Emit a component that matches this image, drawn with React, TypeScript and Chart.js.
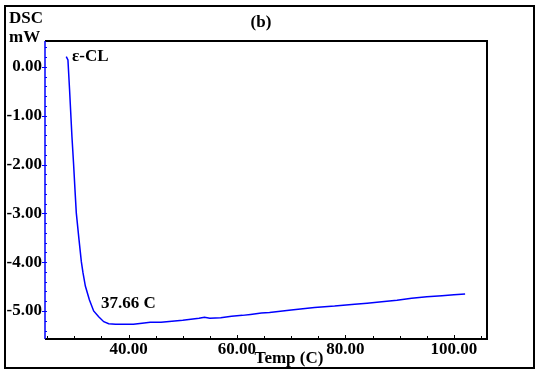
import React, { useEffect, useRef } from "react";
import { Chart, registerables } from "chart.js";

Chart.register(...registerables);

const temps = [28.52, 28.83, 29.13, 29.57, 29.87, 30.13, 30.37, 30.87, 31.3, 31.61, 32.04, 32.78, 33.57, 34.5, 35.43, 36.35, 37.6, 39.5, 40.9, 42.5, 44.0, 46.0, 48.0, 50.0, 51.5, 53.0, 54.0, 55.0, 57.0, 59.0, 61.0, 62.5, 64.5, 66.0, 70.0, 74.3, 78.0, 81.7, 84.0, 86.7, 89.5, 92.2, 95.0, 97.8, 100.0, 102.06];
const dsc = [0.21, 0.14, -0.47, -1.43, -1.99, -2.52, -2.99, -3.54, -3.99, -4.22, -4.49, -4.77, -5.0, -5.12, -5.22, -5.26, -5.27, -5.27, -5.27, -5.25, -5.23, -5.23, -5.21, -5.19, -5.17, -5.15, -5.13, -5.15, -5.14, -5.11, -5.09, -5.07, -5.04, -5.03, -4.98, -4.93, -4.9, -4.86, -4.84, -4.81, -4.78, -4.74, -4.71, -4.69, -4.67, -4.65];

const xMin = 24.6;
const xMax = 106.1;
const yMin = -5.574;
const yMax = 0.53;
const xMajorStep = 20;
const xMinorStep = 5;
const yMajorStep = 1;
const yMinorStep = 0.2;

const titleText = "(b)";
const yTitle1 = "DSC";
const yTitle2 = "mW";
const xTitle = "Temp (C)";
const sampleLabel = "\u03b5-CL";
const peakLabel = "37.66 C";

const FONT = "'Liberation Serif', 'Times New Roman', serif";
const BLUE = "#0000ff";

const decorPlugin = {
  id: "decor",
  afterDraw(chart: any) {
    const ctx = chart.ctx;
    const { left, right, top, bottom } = chart.chartArea;
    const xs = chart.scales.x;
    const ys = chart.scales.y;
    ctx.save();
    // outer frame
    ctx.strokeStyle = "#000";
    ctx.lineWidth = 2;
    ctx.strokeRect(5, 6, 529, 362);
    // inner frame: top, right, bottom black
    ctx.beginPath();
    ctx.moveTo(left, top);
    ctx.lineTo(right, top);
    ctx.lineTo(right, bottom);
    ctx.lineTo(left, bottom);
    ctx.stroke();
    // x ticks (inside, black)
    ctx.lineWidth = 1;
    ctx.strokeStyle = "#000";
    for (let v = Math.ceil(xMin / xMinorStep) * xMinorStep; v <= xMax; v += xMinorStep) {
      const px = Math.round(xs.getPixelForValue(v)) + 0.5;
      const major = Math.abs(v / xMajorStep - Math.round(v / xMajorStep)) < 1e-6;
      ctx.beginPath();
      ctx.moveTo(px, bottom);
      ctx.lineTo(px, bottom - (major ? 4 : 3));
      ctx.stroke();
    }
    // left axis, blue
    ctx.strokeStyle = BLUE;
    ctx.lineWidth = 1.5;
    ctx.beginPath();
    ctx.moveTo(left, top);
    ctx.lineTo(left, bottom);
    ctx.stroke();
    ctx.lineWidth = 1;
    const startY = Math.ceil(yMin / yMinorStep) * yMinorStep;
    for (let i = 0; ; i++) {
      const v = startY + i * yMinorStep;
      if (v > yMax) break;
      const py = Math.round(ys.getPixelForValue(v)) + 0.5;
      const major = Math.abs(v / yMajorStep - Math.round(v / yMajorStep)) < 1e-6;
      ctx.beginPath();
      if (major) {
        ctx.moveTo(left - 3, py);
        ctx.lineTo(left + 2, py);
      } else {
        ctx.moveTo(left, py);
        ctx.lineTo(left + 2, py);
      }
      ctx.stroke();
    }
    // texts
    ctx.fillStyle = "#000";
    ctx.font = `bold 17px ${FONT}`;
    ctx.textBaseline = "middle";
    ctx.textAlign = "left";
    ctx.fillText(yTitle1, 9, 19);
    ctx.fillText(yTitle2, 9, 38);
    ctx.textAlign = "center";
    ctx.fillText(titleText, 261, 23);
    ctx.fillText(xTitle, 289, 359);
    ctx.textAlign = "left";
    ctx.fillText(sampleLabel, 72, 57);
    ctx.fillText(peakLabel, 101, 304);
    ctx.restore();
  },
};

export default function App() {
  const ref = useRef<HTMLCanvasElement>(null);
  useEffect(() => {
    document.body.style.margin = "0";
    const pts = temps.map((t, i) => ({ x: t, y: dsc[i] }));
    const chart = new Chart(ref.current!, {
      type: "line",
      data: {
        datasets: [
          {
            data: pts,
            borderColor: BLUE,
            borderWidth: 1.5,
            pointRadius: 0,
            tension: 0,
            fill: false,
          },
        ],
      },
      options: {
        animation: false,
        responsive: false,
        maintainAspectRatio: false,
        layout: { padding: { left: 0, top: 41, right: 51, bottom: 0 } },
        plugins: { legend: { display: false }, tooltip: { enabled: false } },
        scales: {
          x: {
            type: "linear",
            min: xMin,
            max: xMax,
            grid: { display: false, drawTicks: false },
            border: { display: false },
            afterFit: (s: any) => {
              s.height = 35;
            },
            ticks: {
              stepSize: xMajorStep,
              includeBounds: false,
              maxRotation: 0,
              padding: 0,
              color: "#000",
              font: { family: FONT, size: 17, weight: "bold" },
              callback: (v: any) => Number(v).toFixed(2),
            },
          },
          y: {
            type: "linear",
            min: yMin,
            max: yMax,
            grid: { display: false, drawTicks: false },
            border: { display: false },
            afterFit: (s: any) => {
              s.width = 45;
            },
            ticks: {
              stepSize: yMajorStep,
              includeBounds: false,
              padding: 3,
              color: "#000",
              font: { family: FONT, size: 17, weight: "bold" },
              callback: (v: any) => (Math.abs(v) < 1e-9 ? "0.00" : Number(v).toFixed(2)),
            },
          },
        },
      },
      plugins: [decorPlugin],
    });
    return () => chart.destroy();
  }, []);
  return (
    <div style={{ width: 538, height: 374 }}>
      <canvas ref={ref} width={538} height={374} style={{ display: "block" }} />
    </div>
  );
}
